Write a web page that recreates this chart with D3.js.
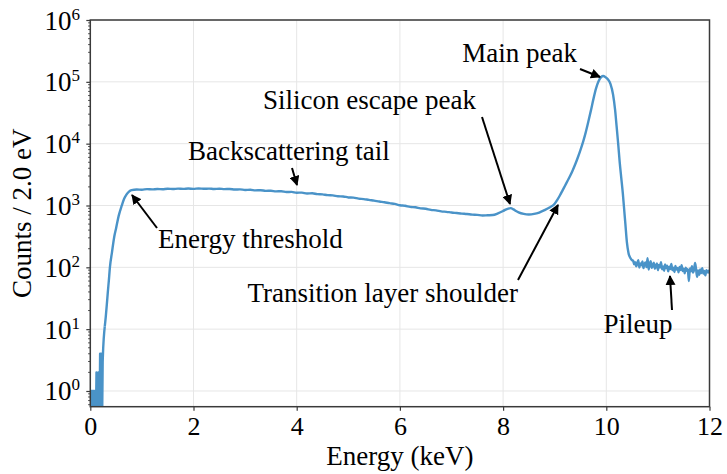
<!DOCTYPE html>
<html>
<head>
<meta charset="utf-8">
<script src="https://cdn.jsdelivr.net/npm/d3@7"></script>
<style>
  html, body { margin: 0; padding: 0; background: #fff; }
  svg text { font-family: "Liberation Serif", "Times New Roman", serif; fill: #000; }
</style>
</head>
<body>
<svg id="chart" width="727" height="474"></svg>
<script>
// Detector energy spectrum (counts per 2.0 eV bin), log scale
const energyKeV = [
  0.00,0.01,0.02,0.03,0.04,0.05,0.06,0.07,0.08,0.09,0.10,0.11,0.12,0.13,0.14,0.15,0.16,0.17,0.18,0.19,
  0.20,0.21,0.22,0.23,0.24,0.25,0.26,0.27,0.28,0.30,0.32,0.34,0.36,0.38,0.42,0.465,0.50,0.55,0.61,0.65,
  0.70,0.75,0.80,0.9,1.0,1.1,1.2,1.3,1.4,1.5,1.6,1.7,1.8,1.9,2.0,2.1,2.2,2.3,2.4,2.5,2.6,2.7,2.8,2.9,
  3.0,3.1,3.2,3.3,3.4,3.5,3.6,3.7,3.8,3.9,4.0,4.1,4.2,4.3,4.4,4.5,4.6,4.7,4.8,4.9,5.0,5.1,5.2,5.3,5.4,
  5.5,5.6,5.7,5.8,5.9,6.0,6.1,6.2,6.3,6.4,6.5,6.6,6.7,6.8,6.9,7.0,7.1,7.2,7.3,7.4,7.5,7.6,7.7,7.8,7.9,
  8.0,8.05,8.1,8.15,8.2,8.25,8.3,8.4,8.5,8.6,8.7,8.8,8.9,
  9.00,9.05,9.10,9.15,9.20,9.25,9.30,9.35,9.40,9.45,9.50,9.55,9.60,9.65,9.70,9.75,9.80,9.85,9.90,9.94,
  9.98,10.03,10.08,10.13,10.17,10.20,10.23,10.26,10.29,10.32,10.34,10.37,10.40,10.43,10.47,10.50,
  10.52,10.54,10.56,10.58,10.60,10.62,10.64,10.66,10.68,10.70,10.72,10.74,10.76,10.78,10.80,10.82,10.84,
  10.86,10.88,10.90,10.92,10.94,10.96,10.98,11.00,11.02,11.04,11.06,11.08,11.10,11.12,11.14,11.16,11.18,
  11.20,11.22,11.24,11.26,11.28,11.30,11.32,11.34,11.36,11.38,11.40,11.42,11.44,11.46,11.48,11.50,11.52,
  11.54,11.56,11.58,11.60,11.62,11.64,11.66,11.68,11.70,11.72,11.74,11.76,11.78,11.80,11.82,11.84,11.86,
  11.88,11.90,11.92,11.94,11.96,11.98,12.00
];
const counts = [
  0,1,0,1,0,1,1,0,1,0,1,0,2,1,0,1,2,1,0,4,
  2,4,1,0,3,5,7,9,11,16,25,40,62,100,175,316,430,680,1000,1250,
  1500,1680,1770,1810,1800,1840,1820,1850,1835,1865,1845,1875,1855,1880,1860,1885,1865,1875,1850,1870,1840,1850,1810,1825,
  1785,1795,1755,1765,1725,1730,1690,1700,1650,1660,1610,1615,1565,1575,1525,1510,1470,1460,1410,1400,1350,1340,1290,1270,1230,
  1200,1160,1130,1090,1060,1010,990,950,935,900,885,850,835,805,790,770,755,740,728,712,705,690,695,700,745,
  815,860,890,905,865,815,775,730,715,730,770,840,930,
  1070,1230,1450,1740,2090,2510,3020,3720,4680,6030,7940,10700,15100,22400,33900,52500,77600,102000,119000,124000,
  120000,110000,93000,63000,35500,19000,10000,5000,2800,1580,1000,500,250,170,140,130,
  128,112,121,104,118,130,99,115,108,124,97,113,120,101,140,92,110,
  126,98,107,119,95,104,116,90,109,100,121,93,103,88,111,97,106,
  86,102,94,113,90,99,84,105,92,98,83,101,90,108,87,95,80,
  99,88,93,60,96,86,104,82,91,118,93,70,89,76,92,81,97,
  79,87,74,90,83,88,80
];

const xTicks = [0, 2, 4, 6, 8, 10, 12];
const yExponents = [0, 1, 2, 3, 4, 5, 6];

const annotations = [
  { label: "Main peak",                 tx: 577, ty: 62,  anchor: "end",    from: [580, 69],  to: [600, 77] },
  { label: "Silicon escape peak",       tx: 263, ty: 109, anchor: "start",  from: [482, 117], to: [510, 204] },
  { label: "Backscattering tail",       tx: 188, ty: 160, anchor: "start",  from: [292, 168], to: [297, 185] },
  { label: "Energy threshold",          tx: 158, ty: 248, anchor: "start",  from: [157, 228], to: [132, 195] },
  { label: "Transition layer shoulder", tx: 518, ty: 302, anchor: "end",    from: [518, 280], to: [558, 205] },
  { label: "Pileup",                    tx: 638, ty: 333, anchor: "middle", from: [672, 310], to: [670, 276] }
];

const W = 727, H = 474;
const margin = { left: 90.3, right: 17.5, top: 20, bottom: 67.3 };
const x = d3.scaleLinear().domain([0, 12]).range([margin.left, W - margin.right]);
const y = d3.scaleLog().domain([0.557, 1e6]).range([H - margin.bottom, margin.top]);

const svg = d3.select("#chart");
const x0 = margin.left, x1 = W - margin.right, y0 = H - margin.bottom, y1 = margin.top;

const defs = svg.append("defs");
defs.append("clipPath").attr("id", "plotClip")
  .append("rect").attr("x", x0).attr("y", y1).attr("width", x1 - x0).attr("height", y0 - y1);
defs.append("marker").attr("id", "head")
  .attr("viewBox", "0 0 10 10").attr("refX", 9).attr("refY", 5)
  .attr("markerWidth", 5).attr("markerHeight", 5).attr("markerUnits", "strokeWidth")
  .attr("orient", "auto")
  .append("path").attr("d", "M0,0 L10,5 L0,10 z").attr("fill", "#000");

// grid
const grid = svg.append("g");
grid.selectAll(".gx").data(xTicks).join("line")
  .attr("x1", d => x(d)).attr("x2", d => x(d)).attr("y1", y1).attr("y2", y0)
  .attr("stroke", "#e6e6e6").attr("stroke-width", 1);
grid.selectAll(".gy").data(yExponents).join("line")
  .attr("x1", x0).attr("x2", x1).attr("y1", d => y(Math.pow(10, d))).attr("y2", d => y(Math.pow(10, d)))
  .attr("stroke", "#e6e6e6").attr("stroke-width", 1);

// spectrum: empty bins drop to the bottom of the log axis
const data = energyKeV.map((e, i) => [e, counts[i]]);
const lowCut = data.filter(d => d[0] <= 0.28);
const rest = data.filter(d => d[0] >= 0.28);
const yOf = d => d[1] > 0 ? y(d[1]) : y0 + 10;
const stepLine = d3.line().x(d => x(d[0])).y(yOf);
const smoothLine = d3.line().x(d => x(d[0])).y(yOf).curve(d3.curveMonotoneX);
const plot = svg.append("g").attr("clip-path", "url(#plotClip)");
[[lowCut, stepLine], [rest, smoothLine]].forEach(([pts, gen]) => {
  plot.append("path").datum(pts)
    .attr("d", gen)
    .attr("fill", "none")
    .attr("stroke", "#4a93c8")
    .attr("stroke-width", 2.4)
    .attr("stroke-linejoin", "round");
});

// axes
const xAxis = d3.axisBottom(x).tickValues(xTicks).tickSize(4).tickPadding(5).tickFormat(d3.format("d"));
const gx = svg.append("g").attr("transform", `translate(0,${y0})`).call(xAxis);
gx.select(".domain").remove();
gx.selectAll(".tick line").attr("stroke", "#3a3a3a").attr("stroke-width", 1.2);
gx.selectAll(".tick text").attr("font-size", 26).attr("font-family", "Liberation Serif").attr("dy", "0.74em");

const yAxis = d3.axisLeft(y).tickValues(yExponents.map(e => Math.pow(10, e))).tickSize(4).tickFormat("");
const gy = svg.append("g").attr("transform", `translate(${x0},0)`).call(yAxis);
gy.select(".domain").remove();
gy.selectAll(".tick line").attr("stroke", "#3a3a3a").attr("stroke-width", 1.2);

// minor log ticks
const minor = [];
for (let e = -1; e < 6; e++) for (let m = 2; m <= 9; m++) {
  const v = m * Math.pow(10, e);
  if (v >= y.domain()[0] && v <= 1e6) minor.push(v);
}
svg.append("g").selectAll("line").data(minor).join("line")
  .attr("x1", x0 - 2.2).attr("x2", x0).attr("y1", d => y(d)).attr("y2", d => y(d))
  .attr("stroke", "#3a3a3a").attr("stroke-width", 0.9);

// y tick labels as 10^n
const ylab = svg.append("g");
yExponents.forEach(e => {
  const t = ylab.append("text")
    .attr("x", 80).attr("y", y(Math.pow(10, e)) + 9.5)
    .attr("text-anchor", "end").attr("font-size", 27);
  t.append("tspan").text("10");
  t.append("tspan").text(e).attr("font-size", 17).attr("dy", -10);
});

// frame
svg.append("rect").attr("x", x0).attr("y", y1).attr("width", x1 - x0).attr("height", y0 - y1)
  .attr("fill", "none").attr("stroke", "#3a3a3a").attr("stroke-width", 1.5);

// axis titles
svg.append("text").attr("x", (x0 + x1) / 2).attr("y", 465).attr("text-anchor", "middle")
  .attr("font-size", 27).text("Energy (keV)");
svg.append("text").attr("transform", `translate(31,${(y0 + y1) / 2}) rotate(-90)`)
  .attr("text-anchor", "middle").attr("font-size", 27).text("Counts / 2.0 eV");

// annotations
const ann = svg.append("g");
annotations.forEach(a => {
  ann.append("line")
    .attr("x1", a.from[0]).attr("y1", a.from[1]).attr("x2", a.to[0]).attr("y2", a.to[1])
    .attr("stroke", "#000").attr("stroke-width", 2).attr("marker-end", "url(#head)");
  ann.append("text").attr("x", a.tx).attr("y", a.ty).attr("text-anchor", a.anchor)
    .attr("font-size", 27).text(a.label);
});
</script>
</body>
</html>
